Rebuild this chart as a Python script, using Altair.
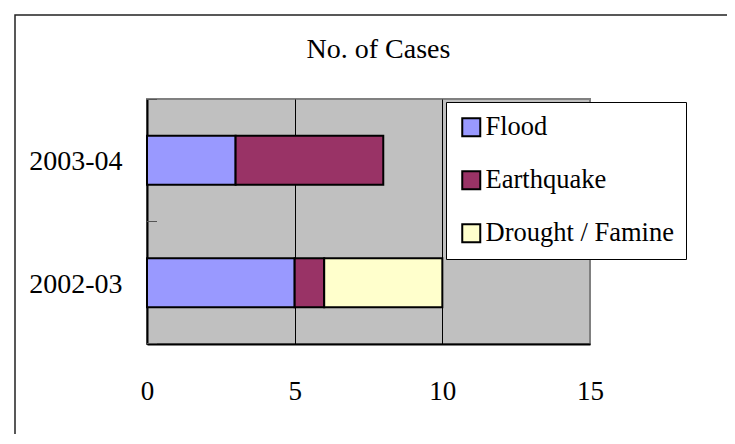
import altair as alt
import pandas as pd

years = ["2003-04", "2002-03"]
series = ["Flood", "Earthquake", "Drought / Famine"]
flood = [3, 5]
earthquake = [5, 1]
drought = [0, 4]
colors = ["#9999FF", "#993366", "#FFFFCC"]
x_ticks = [0, 5, 10, 15]
title_text = "No. of Cases"

rows = []
for i, yr in enumerate(years):
    for k, (s, vals) in enumerate(zip(series, [flood, earthquake, drought])):
        if vals[i] > 0:
            rows.append({"year": yr, "type": s, "cases": vals[i], "order": k})
df = pd.DataFrame(rows)

FONT = "Liberation Serif"
W, H = 443, 245

bars = alt.Chart(df).mark_bar(stroke="black", strokeWidth=2).encode(
    x=alt.X(
        "cases:Q",
        stack="zero",
        scale=alt.Scale(domain=[0, 15], nice=False),
        axis=alt.Axis(
            values=x_ticks,
            title=None,
            grid=True,
            gridColor=alt.condition("datum.value == 15", alt.value("#808080"), alt.value("black")),
            gridWidth=1,
            gridOpacity=1,
            domainColor="black",
            domainWidth=2,
            ticks=False,
            labelFlush=False,
            labelPadding=34,
            labelFont=FONT,
            labelFontSize=27,
            labelColor="black",
        ),
    ),
    y=alt.Y(
        "year:N",
        sort=years,
        scale=alt.Scale(paddingInner=0.6, paddingOuter=0.3),
        axis=alt.Axis(
            title=None,
            ticks=False,
            domainColor="black",
            domainWidth=2,
            labelPadding=25,
            labelOffset=2,
            labelFont=FONT,
            labelFontSize=28,
            labelColor="black",
        ),
    ),
    color=alt.Color(
        "type:N",
        scale=alt.Scale(domain=series, range=colors),
        legend=alt.Legend(
            title=None,
            orient="none",
            legendX=299,
            legendY=3,
            fillColor="white",
            strokeColor="black",
            padding=12,
            symbolType="square",
            symbolSize=324,
            symbolStrokeColor="black",
            symbolStrokeWidth=2,
            symbolOpacity=1,
            labelFont=FONT,
            labelFontSize=26.5,
            labelColor="black",
            labelOffset=1,
            labelLimit=400,
            rowPadding=26,
        ),
    ),
    order=alt.Order("order:Q"),
)

frame_data = alt.Data(values=[{}])
frame = alt.Chart(frame_data).mark_rect(filled=False, stroke="#222222", strokeWidth=1.5).encode(
    x=alt.value(-132), x2=alt.value(620), y=alt.value(-84), y2=alt.value(380)
)

title = alt.Chart(frame_data).mark_text(
    font=FONT, fontSize=28, color="black", align="center", baseline="alphabetic"
).encode(x=alt.value(W / 2 + 10), y=alt.value(-41), text=alt.value(title_text))

def ytick(py):
    return alt.Chart(frame_data).mark_rule(color="#555555", strokeWidth=1).encode(
        x=alt.value(0), x2=alt.value(10), y=alt.value(py)
    )

chart = alt.layer(
    frame, title, bars, ytick(0.5), ytick(H / 2), ytick(H - 0.5)
).properties(
    width=W,
    height=H,
    autosize=alt.AutoSizeParams(type="none"),
    padding={"left": 139, "top": 91, "right": 137, "bottom": 90},
    background="white",
).configure_view(
    fill="#C0C0C0", stroke="#808080", strokeWidth=2
)

chart.save("out.html", embed_options={"renderer": "svg", "actions": False})
